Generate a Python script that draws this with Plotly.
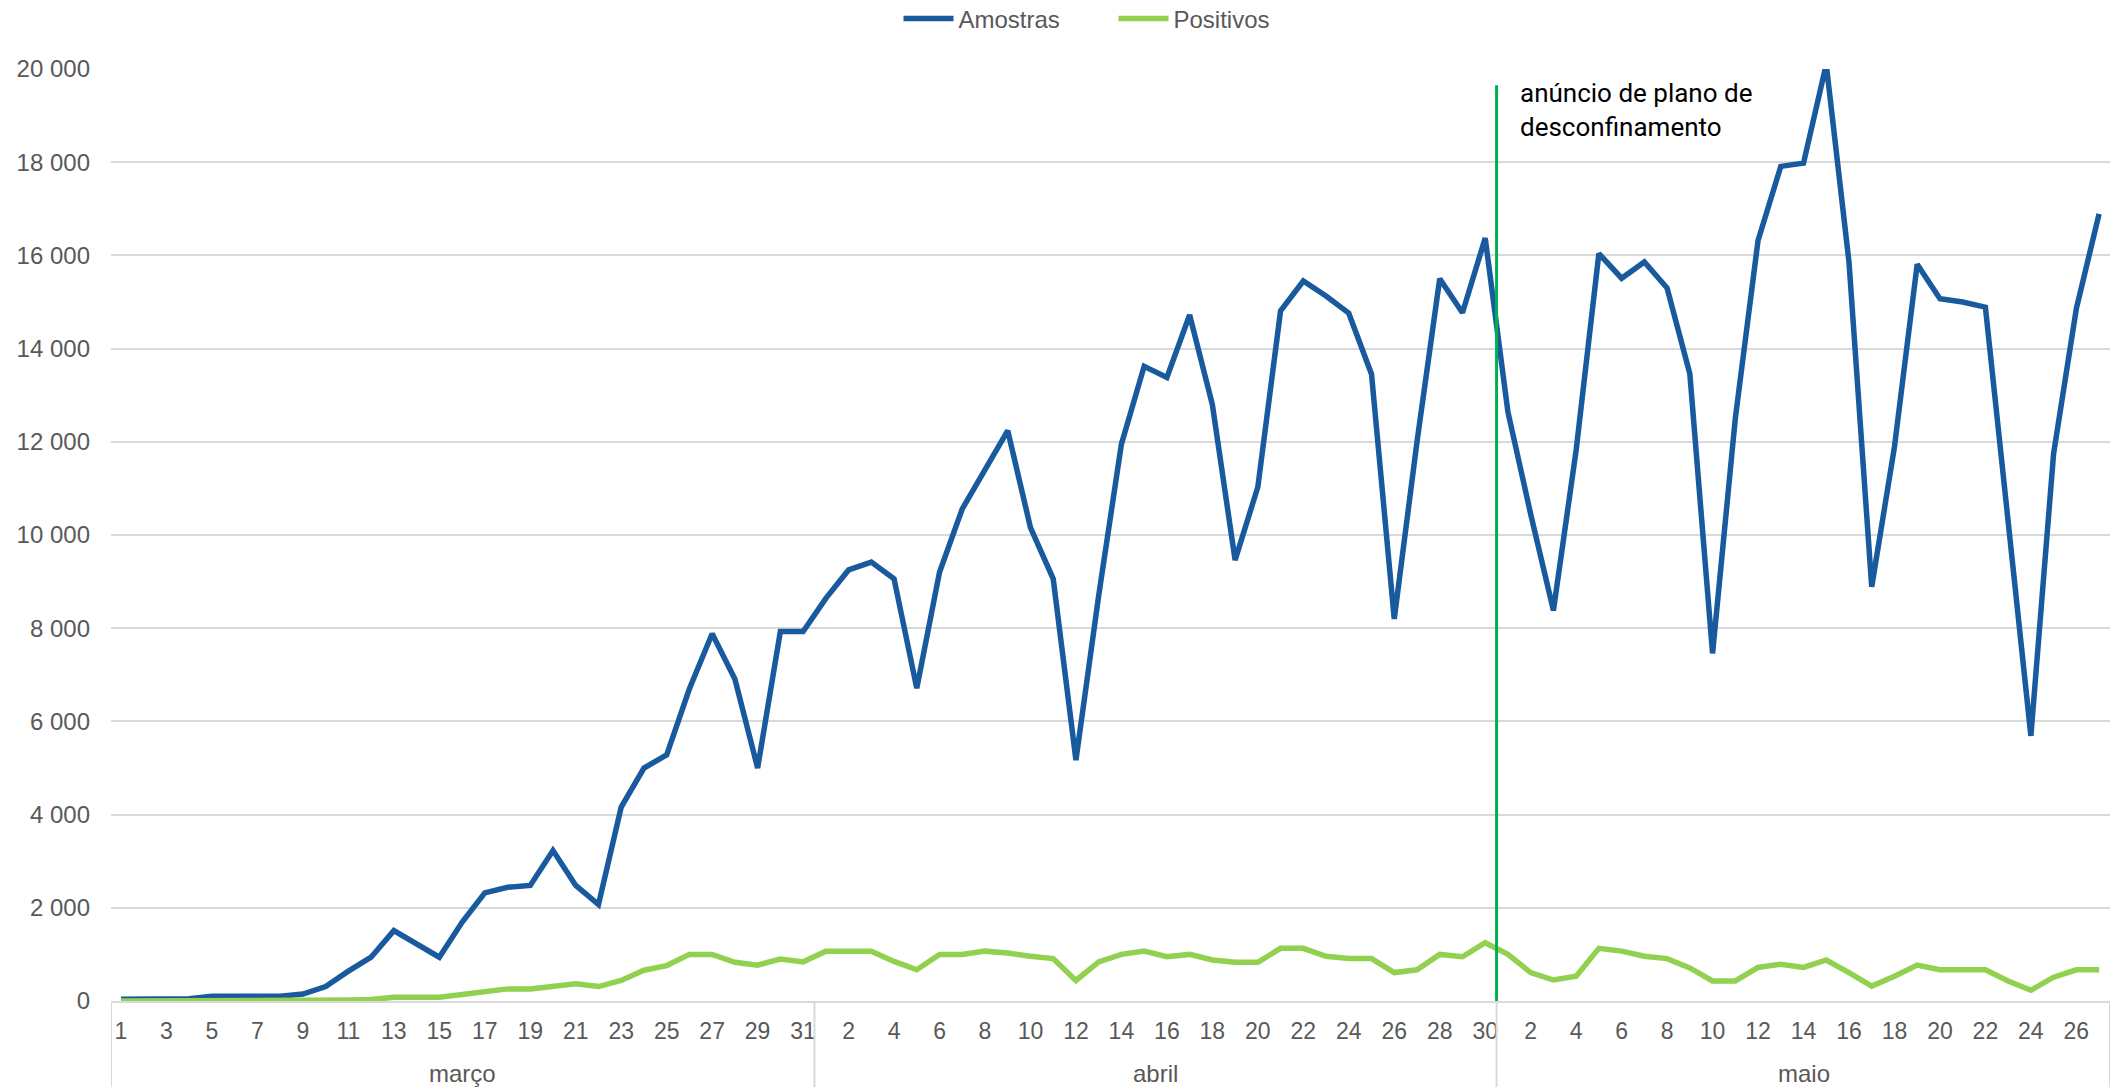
import plotly.graph_objects as go

# ---------------- data ----------------
months = ["março", "abril", "maio"]
days_marco = list(range(1, 32))
days_abril = list(range(1, 31))
days_maio = list(range(1, 28))

amostras_marco = [40, 50, 50, 50, 100, 100, 100, 100, 150, 310, 640, 940, 1510, 1230, 940,
                  1690, 2320, 2440, 2480, 3230, 2480, 2070, 4160, 5000, 5280, 6700, 7880,
                  6910, 5000, 7930, 7930]
amostras_abril = [8640, 9250, 9420, 9060, 6710, 9200, 10560, 11400, 12240, 10160, 9060, 5170,
                  8700, 11950, 13620, 13380, 14720, 12800, 9460, 11030, 14810, 15450, 15130,
                  14760, 13450, 8200, 12000, 15500, 14770, 16370]
amostras_maio = [12640, 10450, 8380, 11820, 16040, 15510, 15860, 15300, 13460, 7460, 12500,
                 16320, 17910, 17980, 20100, 15860, 8890, 11890, 15810, 15070, 15000, 14890,
                 10400, 5690, 11750, 14860, 16890]

positivos_marco = [0, 0, 2, 2, 5, 5, 9, 9, 10, 16, 20, 30, 80, 80, 80, 140, 200, 260, 260, 320,
                   370, 310, 440, 660, 760, 1000, 1000, 830, 770, 900, 840]
positivos_abril = [1070, 1070, 1070, 850, 670, 1000, 1000, 1070, 1030, 960, 910, 440, 840, 1000,
                   1070, 950, 1000, 880, 830, 830, 1130, 1130, 960, 910, 910, 610, 670, 1000,
                   950, 1250]
positivos_maio = [1000, 610, 450, 530, 1130, 1070, 960, 910, 710, 430, 430, 720, 790, 720, 880,
                  610, 320, 530, 770, 670, 670, 670, 430, 230, 510, 670, 670]

y_ticks = list(range(0, 20001, 2000))
event_text = "anúncio de plano de<br>desconfinamento"
event_after = ("abril", 30)      # line drawn between 30 abril and 1 maio
event_top = 19650

# ---------------- build ----------------
day_lists = [days_marco, days_abril, days_maio]
month_of = []
day_of = []
for m, dl in zip(months, day_lists):
    for d in dl:
        month_of.append(m)
        day_of.append(d)
n = len(day_of)
idx = list(range(n))
amostras = amostras_marco + amostras_abril + amostras_maio
positivos = positivos_marco + positivos_abril + positivos_maio

BLUE = "#185A9D"
GREEN = "#92D050"
GRID = "#D9D9D9"
TXT = "#595959"
FONT = "Liberation Sans, Arial, sans-serif"

fig = go.Figure()
fig.add_trace(go.Scatter(x=idx, y=amostras, mode="lines", name="Amostras",
                         line=dict(color=BLUE, width=5.5)))
fig.add_trace(go.Scatter(x=idx, y=positivos, mode="lines", name="Positivos",
                         line=dict(color=GREEN, width=5.5)))

tickvals = idx[::2]
ticktext = [str(day_of[i]) for i in tickvals]

x_lo, x_hi = -0.44, n - 1 + 0.48
plot_h = 1087 - 69 - 86
drop = -86 / plot_h

# month group separators and labels
bounds = [x_lo]
start = 0
for m, dl in zip(months, day_lists):
    end = start + len(dl) - 1
    fig.add_annotation(x=(start + end) / 2, y=-72 / plot_h, xref="x", yref="paper",
                       text=m, showarrow=False, font=dict(family=FONT, size=24, color=TXT),
                       yanchor="middle")
    start = end + 1
    bounds.append(end + 0.5 if start < n else x_hi)
for b in bounds:
    fig.add_shape(type="line", xref="x", yref="paper", x0=b, x1=b, y0=0, y1=drop,
                  line=dict(color=GRID, width=2))

# event line
ev_idx = [i for i in idx if month_of[i] == event_after[0] and day_of[i] == event_after[1]][0] + 0.5
fig.add_shape(type="line", xref="x", yref="y", x0=ev_idx, x1=ev_idx, y0=0, y1=event_top,
              line=dict(color="#00B050", width=3))
fig.add_annotation(x=ev_idx + 0.95, y=event_top + 200, xref="x", yref="y", text=event_text,
                   showarrow=False, xanchor="left", yanchor="top", align="left",
                   font=dict(family="Roboto", size=26, color="#000000"))

fig.update_layout(
    width=2112, height=1087,
    margin=dict(l=111, r=2, t=69, b=86, autoexpand=False),
    paper_bgcolor="white", plot_bgcolor="white",
    font=dict(family=FONT, size=24, color=TXT),
    separators=", ",
    showlegend=True,
    legend=dict(orientation="h", x=0.5015, xanchor="center", y=1 + 50 / plot_h,
                yanchor="middle", font=dict(family=FONT, size=24, color=TXT),
                itemwidth=50, entrywidth=150, entrywidthmode="pixels",
                bgcolor="rgba(0,0,0,0)"),
    xaxis=dict(range=[x_lo, x_hi], tickvals=tickvals, ticktext=ticktext, showgrid=False,
               zeroline=False, showline=True, linecolor=GRID, linewidth=2, ticks="",
               tickfont=dict(family=FONT, size=23, color=TXT), ticklabelstandoff=8),
    yaxis=dict(range=[0, 20000], tickvals=y_ticks, tickformat=",d", showgrid=True,
               gridcolor=GRID, gridwidth=2, zeroline=False, showline=False, ticks="",
               tickfont=dict(family=FONT, size=24, color=TXT), ticklabelstandoff=20),
)

fig.write_html("out.html", config={"displayModeBar": False},
               post_script="document.body.style.margin='0';document.body.style.overflow='hidden';")
